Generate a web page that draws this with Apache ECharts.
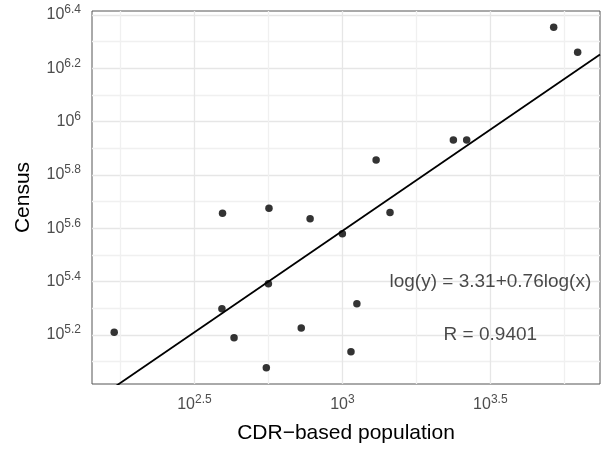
<!DOCTYPE html>
<html>
<head>
<meta charset="utf-8">
<script src="https://cdn.jsdelivr.net/npm/echarts@6/dist/echarts.min.js"></script>
<style>
  html, body { margin: 0; padding: 0; background: #fff; }
  #chart { width: 602px; height: 449px; }
</style>
</head>
<body>
<div id="chart"></div>
<script>
// log10 of the CDR-based population estimate for each area
const cdrLog = [2.229, 2.595, 2.752, 2.891, 3.000, 3.114, 3.161, 3.375, 3.420, 3.714, 3.795,
                2.593, 2.634, 2.750, 2.743, 2.861, 3.049, 3.029];
// log10 of the census count for the same areas
const censusLog = [5.210, 5.656, 5.675, 5.636, 5.580, 5.856, 5.659, 5.931, 5.931, 6.354, 6.260,
                   5.298, 5.189, 5.392, 5.077, 5.226, 5.317, 5.137];

// fitted regression on the log scale
const fitIntercept = 3.31;
const fitSlope = 0.76;
const fitR = 0.9401;

// grid lines (major + minor) and labelled ticks, as log10 exponents
const xGridTicks = [2.25, 2.5, 2.75, 3, 3.25, 3.5, 3.75];
const xLabelTicks = [2.5, 3, 3.5];
const yGridTicks = [5.1, 5.2, 5.3, 5.4, 5.5, 5.6, 5.7, 5.8, 5.9, 6.0, 6.1, 6.2, 6.3, 6.4];
const yLabelTicks = [5.2, 5.4, 5.6, 5.8, 6.0, 6.2, 6.4];

const xRange = [2.154, 3.8705];
const yRange = [5.016, 6.415];

const points = cdrLog.map((x, i) => [x, censusLog[i]]);
const fitLine = xRange.map(x => [x, fitIntercept + fitSlope * x]);

function powerLabel(v) {
  const e = +Number(v).toFixed(2);
  return '{b|10}{s|' + String(e) + '}';
}

const labelRich = {
  b: { fontSize: 16, lineHeight: 22, color: '#4d4d4d', fontFamily: 'Liberation Sans' },
  s: { fontSize: 12, lineHeight: 12, verticalAlign: 'top', color: '#4d4d4d', fontFamily: 'Liberation Sans' }
};

const chart = echarts.init(document.getElementById('chart'), null, { renderer: 'canvas' });

chart.setOption({
  animation: false,
  backgroundColor: '#ffffff',
  textStyle: { fontFamily: 'Liberation Sans' },
  grid: {
    left: 92, right: 2, top: 11, bottom: 65,
    show: true, borderColor: '#555555', borderWidth: 1, backgroundColor: 'transparent'
  },
  xAxis: {
    type: 'value',
    min: xRange[0], max: xRange[1],
    name: 'CDR\u2212based population',
    nameLocation: 'middle',
    nameGap: 39,
    nameTextStyle: { fontSize: 21, color: '#000', fontFamily: 'Liberation Sans' },
    axisLine: { show: false },
    axisTick: { show: false, customValues: xGridTicks },
    splitLine: { show: true, lineStyle: { color: ['#f0f0f0', '#e6e6e6'], width: 1.3 } },
    axisLabel: {
      customValues: xLabelTicks,
      margin: 10,
      formatter: powerLabel,
      rich: labelRich
    }
  },
  yAxis: {
    type: 'value',
    min: yRange[0], max: yRange[1],
    name: 'Census',
    nameLocation: 'middle',
    nameGap: 58,
    nameTextStyle: { fontSize: 21, color: '#000', fontFamily: 'Liberation Sans' },
    axisLine: { show: false },
    axisTick: { show: false, customValues: yGridTicks },
    splitLine: { show: true, lineStyle: { color: ['#f0f0f0', '#e6e6e6'], width: 1.3 } },
    axisLabel: {
      customValues: yLabelTicks,
      margin: 11,
      formatter: powerLabel,
      rich: labelRich
    }
  },
  series: [
    {
      name: 'fit',
      type: 'line',
      data: fitLine,
      showSymbol: false,
      clip: true,
      lineStyle: { color: '#000', width: 1.8 },
      z: 2
    },
    {
      name: 'areas',
      type: 'scatter',
      data: points,
      symbol: 'circle',
      symbolSize: 7.5,
      itemStyle: { color: '#000' },
      z: 3
    },
    {
      name: 'annotations',
      type: 'scatter',
      symbolSize: 1,
      itemStyle: { color: 'transparent' },
      silent: true,
      data: [
        [3.5, 5.4, 'log(y) = ' + fitIntercept.toFixed(2) + '+' + fitSlope.toFixed(2) + 'log(x)'],
        [3.5, 5.2, 'R = ' + fitR.toFixed(4)]
      ],
      label: {
        show: true,
        position: 'inside',
        formatter: p => p.data[2],
        fontSize: 19,
        color: '#1a1a1a',
        fontFamily: 'Liberation Sans'
      },
      z: 4
    }
  ]
});
</script>
</body>
</html>
